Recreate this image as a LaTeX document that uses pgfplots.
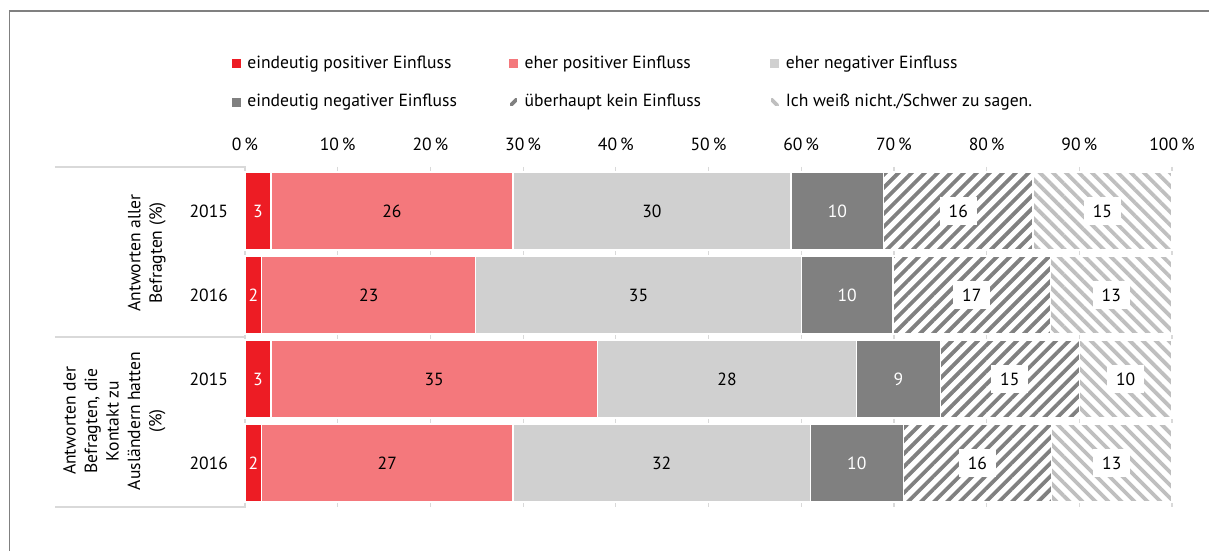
\documentclass[border=0pt]{standalone}
\usepackage{pgfplots}
\pgfplotsset{compat=1.18}
\usepackage{pgfplotstable}
\usepackage{fontspec}
\setmainfont{PT Sans}
\usetikzlibrary{patterns.meta}
\definecolor{cA}{RGB}{237,28,36}
\definecolor{cB}{RGB}{244,120,124}
\definecolor{cC}{RGB}{208,208,208}
\definecolor{cD}{RGB}{128,128,128}
\definecolor{cE}{RGB}{128,128,128}
\definecolor{cF}{RGB}{191,191,191}
\definecolor{gridc}{RGB}{217,217,217}
\definecolor{framec}{RGB}{128,128,128}
\pgfplotstableread{
row a b c d e f la lb lc ld le lf
0 2.8 26.1 30.0 10.0 16.1 15.0 3 26 30 10 16 15
1 1.8 23.1 35.1 9.9 17.0 13.1 2 23 35 10 17 13
2 2.8 35.2 28.0 9.0 15.0 10.0 3 35 28 9 15 10
3 1.8 27.1 32.1 10.0 16.0 13.0 2 27 32 10 16 13
}\data
\newcommand{\lf}{\fontsize{8.8}{10.5}\selectfont}
\begin{document}
\begin{tikzpicture}
\useasboundingbox (0pt,0pt) rectangle (604.5pt,275.5pt);
\draw[framec, line width=0.75pt] (4.75pt,0pt) -- (4.75pt,269.75pt);
\draw[framec, line width=1pt] (4.4pt,269.75pt) -- (604.5pt,269.75pt);
\begin{axis}[
  at={(122.5pt,22pt)}, anchor=south west,
  scale only axis, width=463.5pt, height=170pt,
  xbar stacked, bar width=39pt,
  xmin=0, xmax=100, ymin=-0.524, ymax=3.524, y dir=reverse,
  axis line style={draw=none},
  clip=false,
  xtick={0,10,...,100},
  xticklabels={0\,\%,10\,\%,20\,\%,30\,\%,40\,\%,50\,\%,60\,\%,70\,\%,80\,\%,90\,\%,100\,\%},
  xticklabel pos=upper,
  xticklabel style={yshift=4.5pt},
  major tick length=0pt,
  xmajorgrids, grid style={gridc, line width=0.6pt},
  ytick={0,1,2,3}, yticklabels={2015,2016,2015,2016},
  yticklabel style={xshift=-5pt},
  tick label style={font=\lf},
  legend image code/.code={\draw[#1, draw=none] (0pt,-2.25pt) rectangle (4.5pt,2.25pt);},
  legend columns=3,
  legend cell align=left,
  legend style={at={(axis description cs:-0.014,1.334)}, anchor=north west, draw=none, fill=none,
    inner sep=0pt, font=\lf, row sep=9.5pt,
    nodes={inner xsep=3pt, inner ysep=1pt}},
  every node near coord/.append style={font=\lf, anchor=center},
]
\addplot[fill=cA, draw=white, line width=0.6pt, nodes near coords, point meta=explicit symbolic,
  every node near coord/.append style={text=white}]
  table[x=a, y=row, meta=la] {\data};
\addlegendentry{\makebox[127.5pt][l]{eindeutig positiver Einfluss}}
\addplot[fill=cB, draw=white, line width=0.6pt, nodes near coords, point meta=explicit symbolic,
  every node near coord/.append style={text=black}]
  table[x=b, y=row, meta=lb] {\data};
\addlegendentry{\makebox[119.5pt][l]{eher positiver Einfluss}}
\addplot[fill=cC, draw=white, line width=0.6pt, nodes near coords, point meta=explicit symbolic,
  every node near coord/.append style={text=black}]
  table[x=c, y=row, meta=lc] {\data};
\addlegendentry{eher negativer Einfluss}
\addplot[fill=cD, draw=white, line width=0.6pt, nodes near coords, point meta=explicit symbolic,
  every node near coord/.append style={text=white}]
  table[x=d, y=row, meta=ld] {\data};
\addlegendentry{\makebox[127.5pt][l]{eindeutig negativer Einfluss}}
\addplot[fill=white, draw=white, line width=0.6pt,
  postaction={pattern={Lines[angle=45, distance=4.6pt, line width=1.9pt]}, pattern color=cE},
  nodes near coords, point meta=explicit symbolic,
  every node near coord/.append style={text=black, fill=white, inner xsep=4.5pt, inner ysep=4pt}]
  table[x=e, y=row, meta=le] {\data};
\addlegendentry{\makebox[119.5pt][l]{überhaupt kein Einfluss}}
\addplot[fill=white, draw=white, line width=0.6pt,
  postaction={pattern={Lines[angle=-45, distance=4.6pt, line width=1.9pt]}, pattern color=cF},
  nodes near coords, point meta=explicit symbolic,
  every node near coord/.append style={text=black, fill=white, inner xsep=4.5pt, inner ysep=4pt}]
  table[x=f, y=row, meta=lf] {\data};
\addlegendentry{Ich weiß nicht./Schwer zu sagen.}
% group box
\draw[gridc, line width=0.8pt] (axis cs:-20.5,-0.524) -- (axis cs:0,-0.524) -- (axis cs:0,3.524) -- (axis cs:-20.5,3.524);
\draw[gridc, line width=0.8pt] (axis cs:-20.5,1.5) -- (axis cs:0,1.5);
\node[rotate=90, align=center, font=\fontsize{8.8}{10.75}\selectfont] at (axis cs:-10.6,0.5) {Antworten aller\\Befragten (\%)};
\node[rotate=90, align=center, font=\fontsize{8.8}{10.75}\selectfont] at (axis cs:-14.1,2.5) {Antworten der\\Befragten, die\\Kontakt zu\\Ausländern hatten\\(\%)};
\end{axis}
\end{tikzpicture}
\end{document}
